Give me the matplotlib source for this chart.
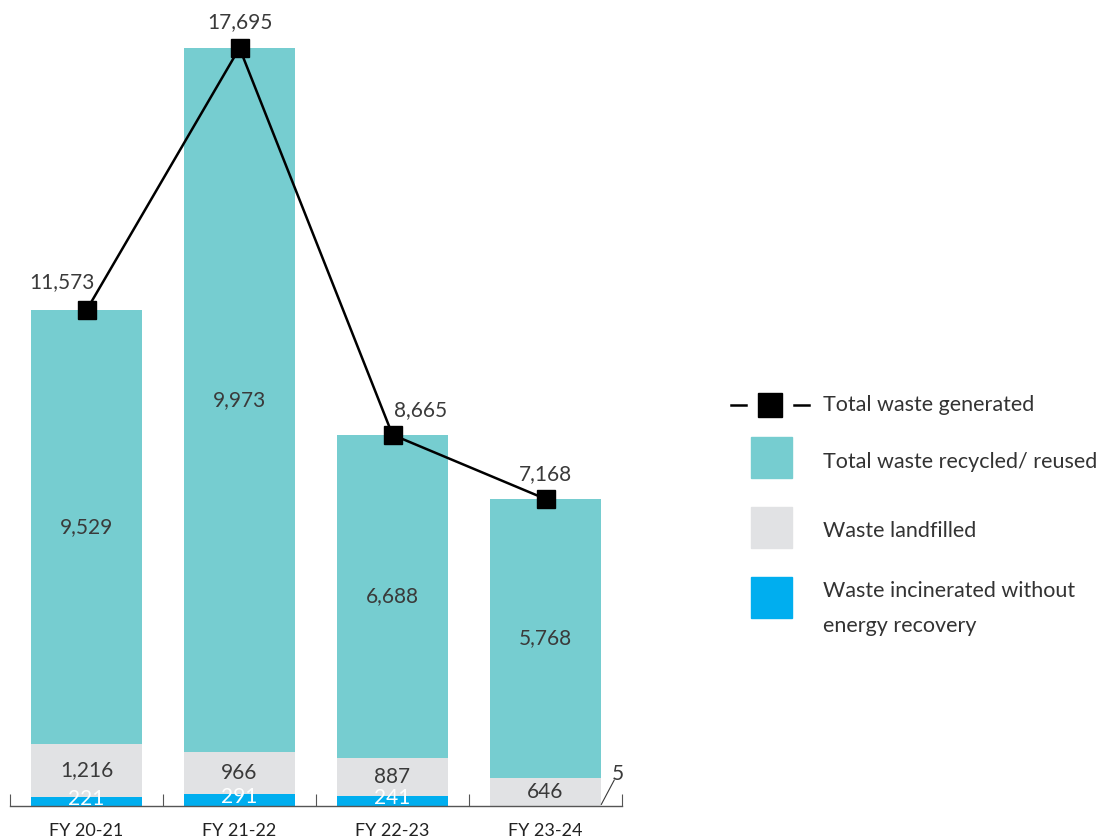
import matplotlib

matplotlib.use("Agg")
import matplotlib.pyplot as plt
import numpy as np
from matplotlib.lines import Line2D
from matplotlib.patches import Rectangle

years = ["FY 20-21", "FY 21-22", "FY 22-23", "FY 23-24"]
total_generated = [11573, 17695, 8665, 7168]
recycled = [9529, 9973, 6688, 5768]
landfilled = [1216, 966, 887, 646]
incinerated = [221, 291, 241, 5]

TEAL = "#76CDD0"
GREY = "#E1E2E4"
BLUE = "#00AEEF"
TEXT = "#3a3a3a"

plt.rcParams["font.family"] = ["Lato", "DejaVu Sans"]

W, H = 1105, 840
fig = plt.figure(figsize=(W / 100, H / 100), dpi=100)
ax = fig.add_axes([10 / W, 34 / H, 612 / W, 806 / H])

x = np.arange(len(years))
tot = np.array(total_generated)
lf = np.array(landfilled)
inc = np.array(incinerated)
# recycled block is drawn up to the total, like the original chart
rec_h = tot - lf - inc
bw = 0.72

ax.bar(x, inc, bw, color=BLUE, zorder=2)
ax.bar(x, lf, bw, bottom=inc, color=GREY, zorder=2)
ax.bar(x, rec_h, bw, bottom=inc + lf, color=TEAL, zorder=2)
ax.plot(x, tot, color="black", lw=1.8, marker="s", ms=13, zorder=5)

# segment labels
for i in x:
    ax.text(i, inc[i] + lf[i] + rec_h[i] / 2, f"{recycled[i]:,}", ha="center",
            va="center", fontsize=15, color=TEXT, zorder=4)
    ax.text(i, inc[i] + lf[i] / 2, f"{lf[i]:,}", ha="center", va="center",
            fontsize=15, color=TEXT, zorder=4)
    if inc[i] >= 50:
        ax.text(i, inc[i] / 2 + 60, f"{inc[i]:,}", ha="center", va="center",
                fontsize=15, color="white", zorder=4)
    else:
        # tiny value: label outside with a leader line
        ax.annotate(f"{inc[i]:,}", xy=(i + bw / 2, inc[i]), xytext=(17, 32),
                    textcoords="offset pixels", ha="center", va="center",
                    fontsize=15, color=TEXT,
                    arrowprops=dict(arrowstyle="-", color=TEXT, lw=0.8,
                                    patchA=None, shrinkA=5, shrinkB=1))

# total labels
total_offsets = [(-25, 28), (0, 26), (28, 25), (0, 25)]
for i in x:
    ax.annotate(f"{tot[i]:,}", xy=(i, tot[i]), xytext=total_offsets[i],
                textcoords="offset pixels", ha="center", va="center",
                fontsize=15, color=TEXT, zorder=6)

ax.set_xlim(-0.5, len(years) - 0.5)
ax.set_ylim(0, 18815)
for s in ["top", "right", "left"]:
    ax.spines[s].set_visible(False)
ax.spines["bottom"].set_color("#555555")
ax.spines["bottom"].set_linewidth(1)
ax.set_yticks([])
ax.set_xticks(np.arange(len(years) + 1) - 0.5)
ax.set_xticklabels([])
ax.tick_params(axis="x", which="major", direction="in", length=9,
               width=0.8, color="#555555")
ax.set_xticks(x, minor=True)
ax.set_xticklabels(years, minor=True, fontsize=13, color="#222222")
ax.tick_params(axis="x", which="minor", length=0, pad=12)

# legend, drawn in pixel space
lg = fig.add_axes([0, 0, 1, 1])
lg.set_xlim(0, W)
lg.set_ylim(H, 0)
lg.axis("off")
lg.add_line(Line2D([731, 746], [405, 405], color="black", lw=1.8))
lg.add_line(Line2D([794, 809], [405, 405], color="black", lw=1.8))
lg.add_patch(Rectangle((758, 393), 24, 24, color="black"))
legend_text = [(405, "Total waste generated"),
               (462, "Total waste recycled/ reused"),
               (531, "Waste landfilled"),
               (591, "Waste incinerated without"),
               (626, "energy recovery")]
for ty, lab in legend_text:
    lg.text(823, ty, lab, va="center", fontsize=15.5, color="#333333")
for col, top in [(TEAL, 437), (GREY, 507), (BLUE, 577)]:
    lg.add_patch(Rectangle((751, top), 41, 41, color=col))

fig.savefig("out.png", dpi=100)
